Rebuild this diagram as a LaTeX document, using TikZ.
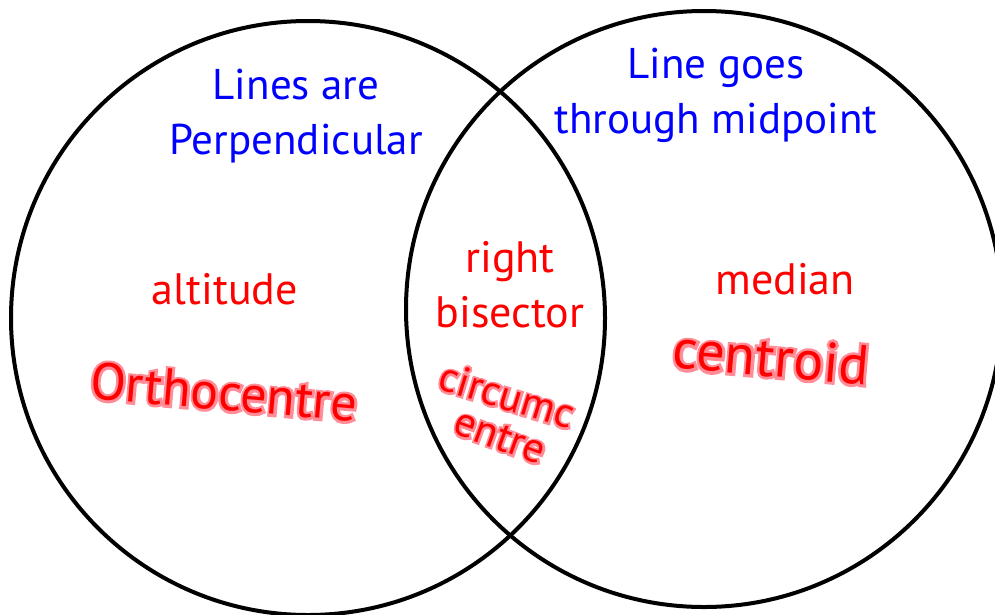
\documentclass[tikz,border=0pt]{standalone}
\usepackage{fontspec}
\setmainfont{PT Sans}
\newfontfamily\glowfont[FakeBold=10]{PT Sans}
\usetikzlibrary{
  positioning % For relative placement
}
\definecolor{glowpink}{RGB}{255,140,150}
% red ink with a pink halo underneath
\newcommand{\scribble}[1]{\makebox[0pt][l]{\glowfont\textcolor{glowpink}{#1}}\textcolor{red}{#1}}

\begin{document}
\begin{tikzpicture}[
      x=1pt, y=-1pt, % Pixel-like units, y pointing down
      set/.style={circle, draw, line width=4pt, inner sep=0pt, minimum size=#1}, % Venn circle
      heading/.style={text=blue, align=center, font=\fontsize{43}{55}\selectfont}, % Blue headings
      term/.style={text=red, align=center, font=\fontsize{44}{55}\selectfont}, % Red typed words
      hand/.style={inner sep=0pt, font=\fontsize{52}{52}\selectfont}, % Handwritten words
    ]
    \useasboundingbox (0,0) rectangle (995,614);
    % Mengen
    \node[set=594pt] (leftset) at (308,318) {};
    \node[set=596pt] (rightset) at (704,309) {};
    % Überschriften
    \node[heading] (perp) at (296,116) {Lines are\\Perpendicular};
    \node[heading] (midpt) at (716,95) {Line goes\\through midpoint};
    % Begriffe
    \node[term] (altitude) at (225,289) {altitude};
    \node[term] (bisector) at (510,285) {right\\bisector};
    \node[term] (median) at (785,279) {median};
    % Handschrift
    \node[hand, rotate=-5] (ortho) at (224,392) {\scribble{Orthocentre}};
    \node[hand, rotate=-5, font=\fontsize{56}{56}\selectfont] (centroid) at (771,357) {\scribble{centroid}};
    \node[hand, rotate=-17, font=\fontsize{42}{42}\selectfont] (circum) at (507,395) {\scribble{circumc}};
    \node[hand, rotate=-20, font=\fontsize{42}{42}\selectfont] (centre) at (500,437) {\scribble{entre}};
  \end{tikzpicture}
\end{document}
